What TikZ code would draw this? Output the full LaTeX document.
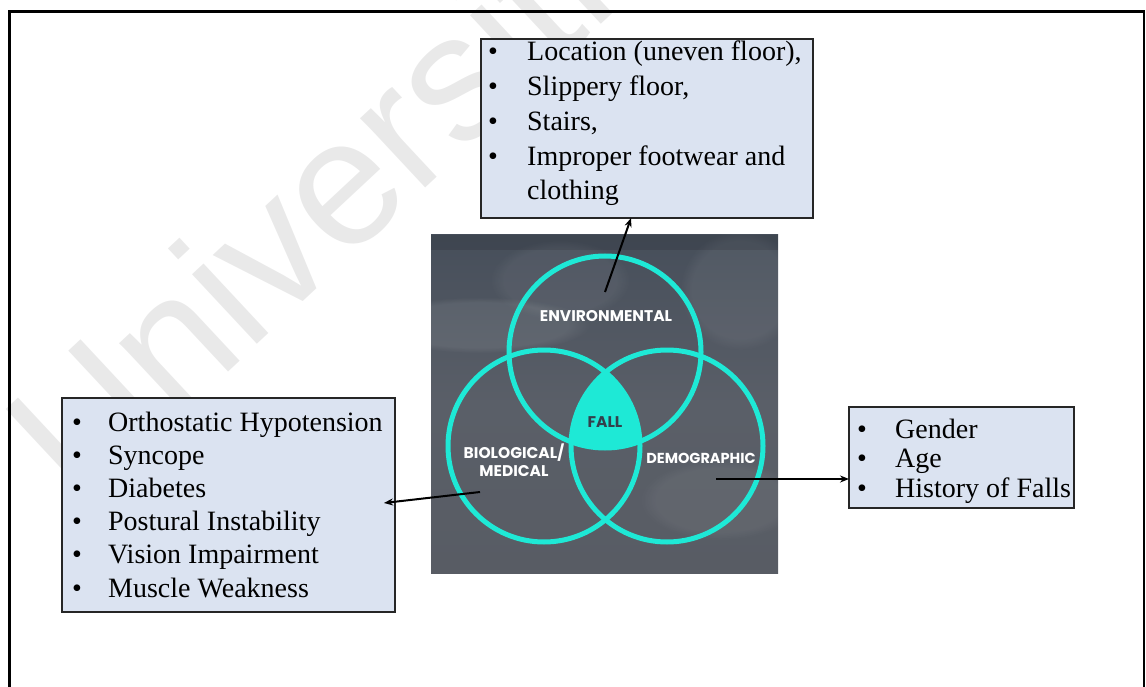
\documentclass[tikz,border=0pt]{standalone}
\usepackage{fontspec}
\setmainfont{Liberation Serif}
\newfontfamily\vennfont{Poppins}
\newfontfamily\wmfont{Liberation Sans}
\usetikzlibrary{arrows.meta,calc,fadings}
\definecolor{venncyan}{RGB}{30,233,214}
\definecolor{boxfill}{RGB}{219,227,241}
\definecolor{imgtop}{RGB}{70,78,90}
\definecolor{imgmid}{RGB}{90,95,104}
\definecolor{imgbot}{RGB}{88,92,100}
\definecolor{falltext}{RGB}{52,64,76}
\definecolor{wmgray}{RGB}{233,233,233}
\begin{document}
\begin{tikzpicture}[x=1pt,y=-1pt,
  listbox/.style={draw=black!85, line width=1.3pt, fill=boxfill, inner sep=0pt, outer sep=0pt, anchor=north west},
  listtext/.style={anchor=base west, inner sep=0pt},
  ring/.style={circle, draw=venncyan, line width=5pt, minimum size=192pt, inner sep=0pt},
  venntxt/.style={text=white, font=\vennfont\bfseries\fontsize{15.5}{18.5}\selectfont, inner sep=0pt, align=center},
  arr/.style={draw=black, line width=2pt, -{Stealth[length=9pt,width=7pt]}},
  glow/.style={fill=white, path fading=circle with fuzzy edge 20 percent},
]
\useasboundingbox (0,0) rectangle (1146,687);
\clip (0,0) rectangle (1146,687);

% watermark
\node[text=wmgray, font=\wmfont\fontsize{180}{190}\selectfont, rotate=43, anchor=base west, inner sep=0pt] (wm) at (80,510) {Universiti Malaya};

% outer frame
\draw[line width=2.6pt] (9.5,11.5) rectangle (1144,720);

% picture background
\shade[top color=imgtop, bottom color=imgbot, middle color=imgmid] (431,235) rectangle (778,573);
\begin{scope}
  \clip (431,235) rectangle (778,573);
  \fill[glow, opacity=0.08] (480,325) ellipse [x radius=110, y radius=28];
  \fill[glow, opacity=0.06] (740,290) ellipse [x radius=60, y radius=60];
  \fill[glow, opacity=0.05] (560,280) ellipse [x radius=70, y radius=40];
  \fill[glow, opacity=0.05] (720,500) ellipse [x radius=80, y radius=40];
  \fill[black, opacity=0.10] (431,235) rectangle (778,250);
\end{scope}

% FALL region
\begin{scope}
  \clip (605,352) circle[radius=96];
  \clip (544,446) circle[radius=96];
  \fill[venncyan] (667,446) circle[radius=96];
\end{scope}

% circles
\node[ring] (envc) at (605,352) {};
\node[ring] (bioc) at (544,446) {};
\node[ring] (democ) at (667,446) {};

% circle labels
\node[venntxt] (envl) at (606,316) {ENVIRONMENTAL};
\node[venntxt] (biol) at (514,460) {BIOLOGICAL/\\MEDICAL};
\node[venntxt, font=\vennfont\bfseries\fontsize{14.5}{18}\selectfont] (demol) at (701,458) {DEMOGRAPHIC};
\node[venntxt, text=falltext] (fall) at (605,422) {FALL};

% boxes
\node[listbox, minimum width=332pt, minimum height=179pt] (envbox) at (481,39) {};
\node[listtext, font=\fontsize{28}{34.7}\selectfont] (envtxt) at (488,61)
  {\begin{tabular}[t]{@{}p{39pt}@{}l@{}}
   \textbullet & Location (uneven floor),\\
   \textbullet & Slippery floor,\\
   \textbullet & Stairs,\\
   \textbullet & Improper footwear and\\
               & clothing
   \end{tabular}};

\node[listbox, minimum width=333pt, minimum height=214pt] (biobox) at (62,398) {};
\node[listtext, font=\fontsize{28}{33.2}\selectfont] (biotxt) at (72,431)
  {\begin{tabular}[t]{@{}p{36pt}@{}l@{}}
   \textbullet & Orthostatic Hypotension\\
   \textbullet & Syncope\\
   \textbullet & Diabetes\\
   \textbullet & Postural Instability\\
   \textbullet & Vision Impairment\\
   \textbullet & Muscle Weakness
   \end{tabular}};

\node[listbox, minimum width=225pt, minimum height=101pt] (demobox) at (849,407) {};
\node[listtext, font=\fontsize{28}{29.5}\selectfont] (demotxt) at (857,438)
  {\begin{tabular}[t]{@{}p{38pt}@{}l@{}}
   \textbullet & Gender\\
   \textbullet & Age\\
   \textbullet & History of Falls
   \end{tabular}};

% connectors
\coordinate (envpt) at (605,292);
\coordinate (biopt) at (480,492);
\coordinate (dempt) at (716,479);
\draw[arr] (envpt) -- ($(envbox.south west)!0.452!(envbox.south east)$);
\draw[arr] (biopt) -- ([xshift=-11pt,yshift=2pt]biobox.east);
\draw[arr] (dempt) -- (dempt -| demobox.west);
\end{tikzpicture}
\end{document}
